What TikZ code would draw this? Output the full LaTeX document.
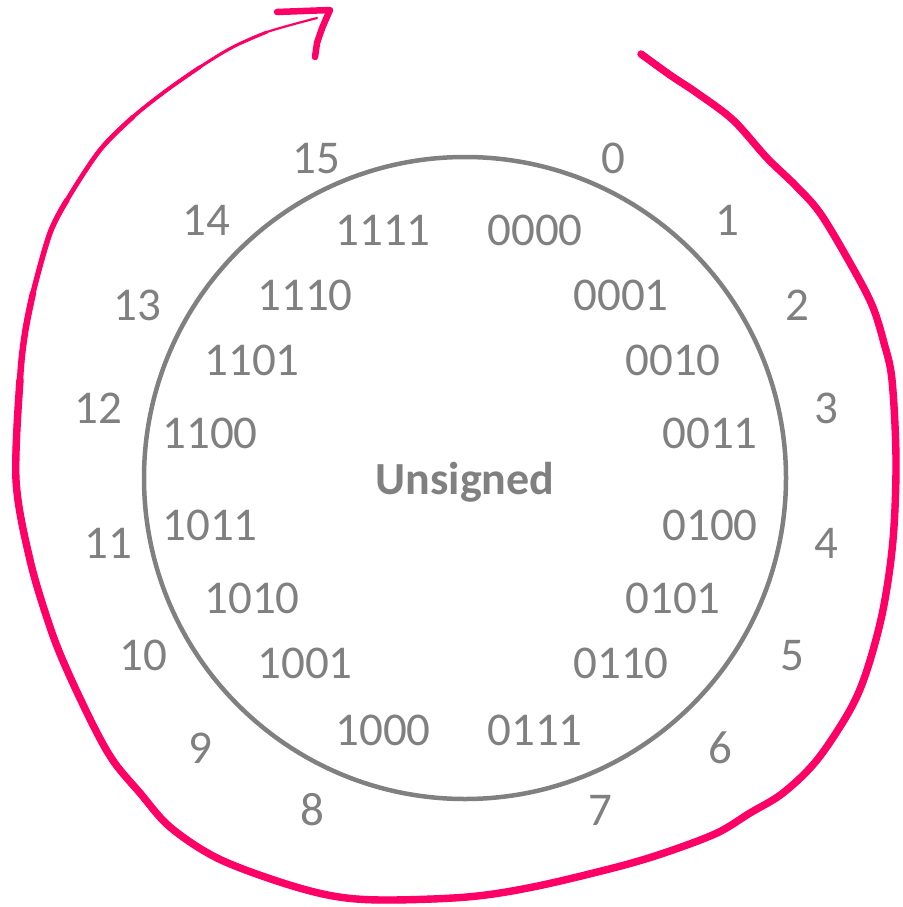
\documentclass[tikz,border=0pt]{standalone}
\usepackage{fontspec}
\setmainfont{Carlito}
\definecolor{txtgray}{HTML}{808080}
\definecolor{hotpink}{HTML}{FF0066}
\begin{document}
\begin{tikzpicture}[x=1pt,y=-1pt,
  num/.style={text=txtgray,font=\fontsize{47}{51}\selectfont,inner sep=0pt,anchor=base},
  title/.style={text=txtgray,font=\fontsize{46}{50}\selectfont\bfseries,inner sep=0pt,anchor=base},
  pinkline/.style={draw=hotpink,line cap=round,line join=round}]
\useasboundingbox (0,0) rectangle (902,907);
% ring
\node[draw=txtgray,line width=4.5pt,circle,minimum size=642pt,inner sep=0pt] (ring) at (465,478) {};
\node[title] (title) at (465,494) {Unsigned};
% outer decimal labels
\node[num] (d0)  at (613,173) {0};
\node[num] (d1)  at (727,235) {1};
\node[num] (d2)  at (797,320) {2};
\node[num] (d3)  at (826,423) {3};
\node[num] (d4)  at (826,558) {4};
\node[num] (d5)  at (792,670) {5};
\node[num] (d6)  at (720,763) {6};
\node[num] (d7)  at (600,825) {7};
\node[num] (d8)  at (312,825) {8};
\node[num] (d9)  at (200,763) {9};
\node[num] (d10) at (143,670) {10};
\node[num] (d11) at (108,558) {11};
\node[num] (d12) at (98,423) {12};
\node[num] (d13) at (137,320) {13};
\node[num] (d14) at (206,235) {14};
\node[num] (d15) at (316,173) {15};
% inner binary labels
\node[num] (b0)  at (535,245) {0000};
\node[num] (b1)  at (621,310) {0001};
\node[num] (b2)  at (673,375) {0010};
\node[num] (b3)  at (710,448) {0011};
\node[num] (b4)  at (710,540) {0100};
\node[num] (b5)  at (673,613) {0101};
\node[num] (b6)  at (621,678) {0110};
\node[num] (b7)  at (535,745) {0111};
\node[num] (b8)  at (383,745) {1000};
\node[num] (b9)  at (305,678) {1001};
\node[num] (b10) at (252,613) {1010};
\node[num] (b11) at (210,540) {1011};
\node[num] (b12) at (210,448) {1100};
\node[num] (b13) at (252,375) {1101};
\node[num] (b14) at (305,310) {1110};
\node[num] (b15) at (383,245) {1111};
% hand-drawn pink arrow (tapering toward its head)
\def\pa{(641,54) (670,75) (697,93) (733,120) (767,158) (795,185) (820,213) (850,263) (872,305) (884,343) (892,380) (896,460) (893,540) (883,610) (867,670) (850,710) (817,760) (783,793) (750,813) (717,833) (667,852) (617,867) (533,887) (467,897) (383,900) (333,896) (280,882) (217,858) (170,827) (140,793) (114,762) (94,727) (67,670) (50,627) (30,560) (16,480) (20,380)}
\draw[pinkline,line width=2.2pt] plot[smooth,tension=0.55] coordinates {\pa (25,333) (33,293) (50,233) (67,200) (100,150) (133,117) (167,90) (200,67) (233,47) (267,32) (317,18)};
\draw[pinkline,line width=3pt] plot[smooth,tension=0.55] coordinates {\pa (25,333) (33,293) (50,233) (67,200) (100,150) (133,117) (167,90) (200,67) (233,47) (267,32)};
\draw[pinkline,line width=3.8pt] plot[smooth,tension=0.55] coordinates {\pa (25,333) (33,293) (50,233) (67,200) (100,150) (133,117) (167,90) (200,67)};
\draw[pinkline,line width=4.6pt] plot[smooth,tension=0.55] coordinates {\pa (25,333) (33,293) (50,233) (67,200) (100,150) (133,117)};
\draw[pinkline,line width=5.4pt] plot[smooth,tension=0.55] coordinates {\pa (25,333) (33,293) (50,233) (67,200)};
\draw[pinkline,line width=6.4pt] plot[smooth,tension=0.55] coordinates {\pa (25,333) (33,293)};
\draw[pinkline,line width=7.4pt] plot[smooth,tension=0.55] coordinates {\pa};
% arrow head
\draw[pinkline,line width=6.5pt] (277,12) -- (330,10) .. controls (322,28) .. (317,43) -- (315,57);
\end{tikzpicture}
\end{document}
